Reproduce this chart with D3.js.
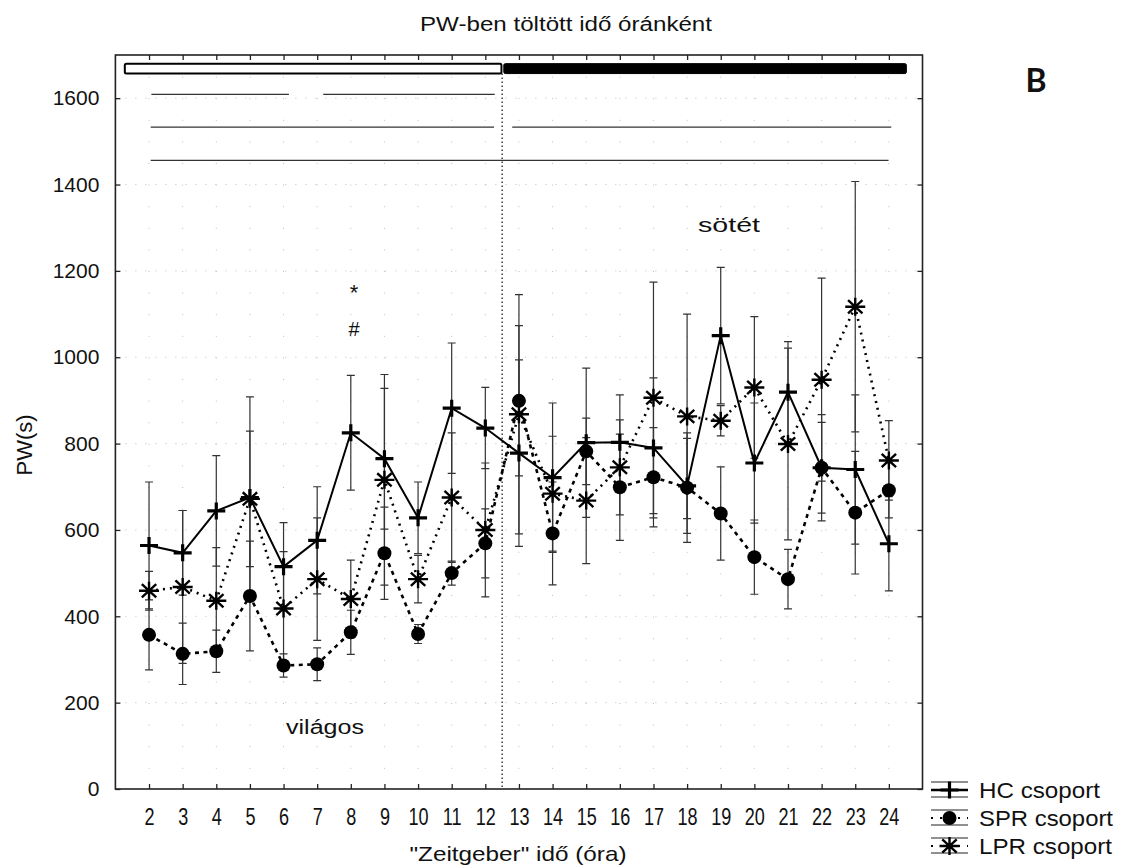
<!DOCTYPE html>
<html>
<head>
<meta charset="utf-8">
<script src="https://cdn.jsdelivr.net/npm/d3@7/dist/d3.min.js"></script>
<style>
  html, body { margin: 0; padding: 0; background: #fff; }
  svg { display: block; font-family: "Liberation Sans", Arial, sans-serif; }
</style>
</head>
<body>
<svg id="chart" width="1126" height="868"></svg>
<script>
// Zeitgeber hours on the x axis
const hours = [2,3,4,5,6,7,8,9,10,11,12,13,14,15,16,17,18,19,20,21,22,23,24];
const yTicks = [0,200,400,600,800,1000,1200,1400,1600];

// Mean time spent (s) and error per hour for each group
const hcMean  = [564,547,644,675,515,576,825,765,628,882,836,778,721,802,803,790,702,1050,755,919,744,740,568];
const hcErr   = [147,98,128,233,102,124,133,163,83,151,94,216,173,173,110,162,110,158,139,117,123,173,109];
const sprMean = [357,313,319,447,286,289,363,546,359,500,569,899,592,782,699,722,698,638,537,486,744,640,692];
const sprErr  = [81,71,49,127,27,38,51,107,22,28,80,174,119,77,123,115,127,108,86,69,105,142,64];
const lprMean = [459,468,436,672,418,486,440,716,486,675,600,868,684,668,745,906,863,853,930,799,948,1117,761];
const lprErr  = [45,177,123,157,132,142,90,244,55,150,155,277,133,146,110,268,237,35,164,222,235,290,92];

const seriesNames = ["HC csoport", "SPR csoport", "LPR csoport"];

// Light / dark phase bars and significance spans (hour, PW units)
const lightPhase = [1.28, 12.48];
const darkPhase  = [12.55, 24.52];
const phaseBand  = [1657, 1680];
const lightsOff  = 12.5;
const sigSpans = [
  {from: 2.07, to: 6.16, level: 1609},
  {from: 7.18, to: 12.28, level: 1609},
  {from: 2.05, to: 12.26, level: 1533},
  {from: 12.8, to: 24.07, level: 1533},
  {from: 2.05, to: 23.99, level: 1456}
];

const svg = d3.select("#chart");
const m = {left: 115.4, top: 55, right: 922.5, bottom: 789};

const x = d3.scaleLinear().domain([1, 25]).range([m.left, m.right]);
const y = d3.scaleLinear().domain([0, 1700]).range([m.bottom, m.top]);

// dotted grid
const grid = svg.append("g").attr("stroke", "#bdbdbd").attr("stroke-width", 1);
grid.selectAll("line.v").data(hours).join("line")
  .attr("x1", d => x(d)).attr("x2", d => x(d))
  .attr("y1", m.top).attr("y2", m.bottom)
  .attr("stroke-dasharray", "1,20.6");
grid.selectAll("line.h").data(yTicks.slice(1)).join("line")
  .attr("x1", m.left).attr("x2", m.right)
  .attr("y1", d => y(d)).attr("y2", d => y(d))
  .attr("stroke-dasharray", "1,9");

// lights-off divider
svg.append("line")
  .attr("x1", x(lightsOff)).attr("x2", x(lightsOff))
  .attr("y1", y(phaseBand[0])).attr("y2", y(0))
  .attr("stroke", "#111").attr("stroke-width", 1.2)
  .attr("stroke-dasharray", "1.5,2.5");

// phase bars on top
svg.append("rect")
  .attr("x", x(lightPhase[0])).attr("y", y(phaseBand[1]))
  .attr("width", x(lightPhase[1]) - x(lightPhase[0]))
  .attr("height", y(phaseBand[0]) - y(phaseBand[1]))
  .attr("rx", 1.5).attr("fill", "#fff").attr("stroke", "#000").attr("stroke-width", 2);
svg.append("rect")
  .attr("x", x(darkPhase[0])).attr("y", y(phaseBand[1]))
  .attr("width", x(darkPhase[1]) - x(darkPhase[0]))
  .attr("height", y(phaseBand[0]) - y(phaseBand[1]))
  .attr("rx", 1.5).attr("fill", "#000").attr("stroke", "#000").attr("stroke-width", 1);

// significance spans
svg.append("g").selectAll("line").data(sigSpans).join("line")
  .attr("x1", d => x(d.from)).attr("x2", d => x(d.to))
  .attr("y1", d => y(d.level)).attr("y2", d => y(d.level))
  .attr("stroke", "#333").attr("stroke-width", 1.3);

// frame
svg.append("rect")
  .attr("x", m.left).attr("y", m.top)
  .attr("width", m.right - m.left).attr("height", m.bottom - m.top)
  .attr("fill", "none").attr("stroke", "#222").attr("stroke-width", 1.6);

// axes with inward ticks
const axisFont = g => g.selectAll("text")
  .attr("font-family", "Liberation Sans, Arial, sans-serif")
  .attr("font-size", 21).attr("fill", "#111");

const gl = svg.append("g").attr("transform", `translate(${m.left},0)`)
  .call(d3.axisLeft(y).tickValues(yTicks).tickFormat(d3.format("d")).tickSize(-5).tickPadding(16));
gl.select(".domain").remove(); axisFont(gl);
const gr = svg.append("g").attr("transform", `translate(${m.right},0)`)
  .call(d3.axisRight(y).tickValues(yTicks).tickSize(-5).tickFormat(""));
gr.select(".domain").remove();
const gb = svg.append("g").attr("transform", `translate(0,${m.bottom})`)
  .call(d3.axisBottom(x).tickValues(hours).tickFormat(d3.format("d")).tickSize(-5).tickPadding(17));
gb.select(".domain").remove(); axisFont(gb);
gb.selectAll("text").attr("transform", "scale(0.86,1.12)");
const gt = svg.append("g").attr("transform", `translate(0,${m.top})`)
  .call(d3.axisTop(x).tickValues(hours).tickSize(-5).tickFormat(""));
gt.select(".domain").remove();
svg.selectAll(".tick line").attr("stroke", "#222").attr("stroke-width", 1.3);

// series
const rows = (mean, err) => hours.map((h, i) => ({h, v: mean[i], e: err[i]}));
const series = [
  {name: seriesNames[0], data: rows(hcMean, hcErr),   dash: null,  marker: "plus",   width: 121},
  {name: seriesNames[1], data: rows(sprMean, sprErr), dash: "4,4.5", marker: "circle", width: 134},
  {name: seriesNames[2], data: rows(lprMean, lprErr), dash: "2,5", marker: "star",   width: 133}
];

// error bars
const eb = svg.append("g").attr("stroke", "#333").attr("stroke-width", 1.2).attr("fill", "none");
series.forEach(s => {
  const g = eb.append("g");
  g.selectAll("path").data(s.data).join("path")
    .attr("d", d => {
      const cx = x(d.h), t = y(d.v + d.e), b = y(d.v - d.e);
      return `M${cx},${t}V${b}M${cx - 4},${t}H${cx + 4}M${cx - 4},${b}H${cx + 4}`;
    });
});

const line = d3.line().x(d => x(d.h)).y(d => y(d.v));
const plusPath = "M-9,0H9M0,-8.5V8.5";
const starPath = "M-10,0H10M0,-9V9M-7.2,-6.6L7.2,6.6M-7.2,6.6L7.2,-6.6";

function drawMarker(g, type, cx, cy) {
  if (type === "circle") {
    g.append("circle").attr("cx", cx).attr("cy", cy).attr("r", 7).attr("fill", "#000");
  } else {
    g.append("path").attr("d", type === "plus" ? plusPath : starPath)
      .attr("transform", `translate(${cx},${cy})`)
      .attr("fill", "none").attr("stroke", "#000")
      .attr("stroke-width", type === "plus" ? 3.2 : 2.4);
  }
}

series.forEach(s => {
  svg.append("path").datum(s.data)
    .attr("d", line).attr("fill", "none").attr("stroke", "#000")
    .attr("stroke-width", s.dash ? 2.6 : 2)
    .attr("stroke-dasharray", s.dash);
});
series.forEach(s => {
  const g = svg.append("g");
  s.data.forEach(d => drawMarker(g, s.marker, x(d.h), y(d.v)));
});

// texts
const txt = (t, px, py, size, len, opts = {}) => {
  const el = svg.append("text")
    .attr("x", px).attr("y", py).attr("font-size", size)
    .attr("text-anchor", opts.anchor || "middle")
    .attr("font-weight", opts.weight || "normal")
    .attr("font-family", opts.family || "Liberation Sans, Arial, sans-serif")
    .attr("fill", "#111").text(t);
  if (len) el.attr("textLength", len).attr("lengthAdjust", "spacingAndGlyphs");
  return el;
};

txt("PW-ben töltött idő óránként", 566, 31, 20, 292);
txt("\"Zeitgeber\" idő (óra)", 518, 861, 21, 217);
svg.append("text").attr("transform", "translate(32,445) rotate(-90)")
  .attr("text-anchor", "middle").attr("font-size", 22).attr("fill", "#111").text("PW(s)");
txt("B", 1036, 92, 32, null, {weight: "bold", family: "Lato, Open Sans, sans-serif"});
txt("sötét", 729, 232, 20, 62);
txt("világos", 325, 734, 20, 78);
txt("*", 354, 300, 22);
txt("#", 354, 336, 20);

// legend
const lg = svg.append("g");
series.forEach((s, i) => {
  const cy = 790 + i * 28;
  lg.append("line").attr("x1", 931).attr("x2", 968).attr("y1", cy - 8).attr("y2", cy - 8)
    .attr("stroke", "#222").attr("stroke-width", 1.2);
  lg.append("line").attr("x1", 931).attr("x2", 968).attr("y1", cy + 7).attr("y2", cy + 7)
    .attr("stroke", "#222").attr("stroke-width", 1.2);
  lg.append("line").attr("x1", 931).attr("x2", 968).attr("y1", cy).attr("y2", cy)
    .attr("stroke", "#000").attr("stroke-width", s.dash ? 2 : 2.5)
    .attr("stroke-dasharray", s.dash ? "2,7" : null);
  drawMarker(lg, s.marker, 949.5, cy);
  lg.append("text").attr("x", 979).attr("y", cy + 8).attr("font-size", 22)
    .attr("textLength", s.width).attr("lengthAdjust", "spacingAndGlyphs")
    .attr("fill", "#111").text(s.name);
});
</script>
</body>
</html>
